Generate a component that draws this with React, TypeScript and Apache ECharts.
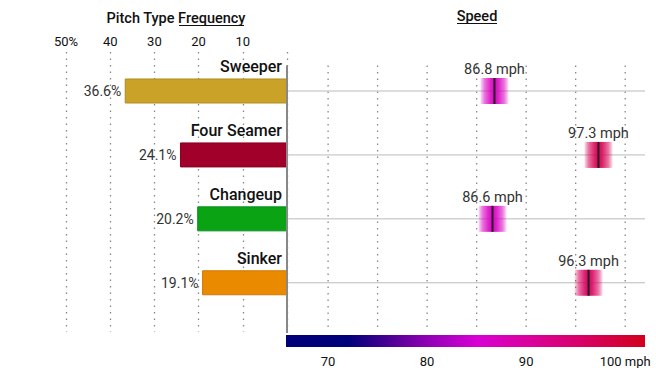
import React, { useEffect, useRef } from "react";
import * as echarts from "echarts";

const categories = ["Sweeper", "Four Seamer", "Changeup", "Sinker"];
const frequency = [36.6, 24.1, 20.2, 19.1];
const speed = [86.8, 97.3, 86.6, 96.3];
const barColors = ["#c9a227", "#a1002a", "#0aa314", "#e98a00"];
const barBorders = ["#b08c1c", "#8a0022", "#08901a", "#d07a00"];
const freqTicks = [10, 20, 30, 40, 50];
const speedLabelTicks = [70, 80, 90, 100];
const speedGridTicks = [70, 75, 80, 85, 90, 95, 100];
const speedMin = 65.75;
const speedMax = 102;
const colorStops: [number, string][] = [
  [65.75, "#000078"],
  [72, "#00007a"],
  [77, "#5a0098"],
  [80, "#8e00b4"],
  [85, "#d800d4"],
  [90, "#da00a0"],
  [95, "#d8006c"],
  [102, "#d2001c"],
];

const FONT = "Roboto";
const Y_MIN = -0.61;
const Y_MAX = 3.77;

function hexToRgb(h: string) {
  const n = parseInt(h.slice(1), 16);
  return [(n >> 16) & 255, (n >> 8) & 255, n & 255];
}
function colorAt(v: number) {
  for (let k = 0; k < colorStops.length - 1; k++) {
    const [a, ca] = colorStops[k];
    const [b, cb] = colorStops[k + 1];
    if (v >= a && v <= b) {
      const t = (v - a) / (b - a);
      const A = hexToRgb(ca), B = hexToRgb(cb);
      return A.map((x, j) => Math.round(x + (B[j] - x) * t));
    }
  }
  return hexToRgb(colorStops[colorStops.length - 1][1]);
}
function rgba(c: number[], a: number) {
  return `rgba(${c[0]},${c[1]},${c[2]},${a})`;
}

export default function App() {
  const ref = useRef<HTMLDivElement>(null);
  useEffect(() => {
    if (!ref.current) return;
    const chart = echarts.init(ref.current, null, { renderer: "svg" });
    const span = speedMax - speedMin;
    const option: any = {
      animation: false,
      textStyle: { fontFamily: FONT },
      grid: [
        { left: 66, right: 369, top: 52, bottom: 36 },
        { left: 286, right: 11, top: 52, bottom: 36 },
      ],
      xAxis: [
        {
          type: "value",
          gridIndex: 0,
          inverse: true,
          min: 0,
          max: 50,
          interval: 10,
          position: "top",
          axisLine: { show: false },
          axisTick: { show: false },
          axisLabel: {
            margin: 4,
            fontSize: 13,
            color: "#111",
            fontFamily: FONT,
            formatter: (v: number) => (v === 50 ? "50%" : v === 0 ? "" : String(v)),
          },
          splitLine: {
            show: true,
            lineStyle: { color: "#888", width: 1.3, type: [1.5, 5] },
          },
        },
        {
          type: "value",
          gridIndex: 1,
          min: speedMin,
          max: speedMax,
          axisLine: { show: false },
          axisTick: { show: false },
          splitLine: { show: false },
          axisLabel: {
            customValues: speedLabelTicks,
            margin: 23,
            fontSize: 13,
            color: "#111",
            fontFamily: FONT,
            formatter: (v: number) => (v === 100 ? "100 mph" : String(v)),
          },
        },
      ],
      yAxis: [
        { type: "value", gridIndex: 0, inverse: true, min: Y_MIN, max: Y_MAX, show: false },
        { type: "value", gridIndex: 1, inverse: true, min: Y_MIN, max: Y_MAX, show: false },
      ],
      graphic: [
        {
          type: "text",
          style: {
            text: "Pitch Type Frequency",
            x: 176,
            y: 18,
            align: "center",
            verticalAlign: "middle",
            fontSize: 14.5,
            fontWeight: 500,
            fontFamily: FONT,
            fill: "#111",
          },
        },
        {
          type: "line",
          shape: { x1: 179, y1: 25.5, x2: 244, y2: 25.5 },
          style: { stroke: "#111", lineWidth: 1.2 },
        },
        {
          type: "text",
          style: {
            text: "Speed",
            x: 477,
            y: 16,
            align: "center",
            verticalAlign: "middle",
            fontSize: 14.5,
            fontWeight: 500,
            fontFamily: FONT,
            fill: "#111",
          },
        },
        {
          type: "line",
          shape: { x1: 457, y1: 23.5, x2: 497, y2: 23.5 },
          style: { stroke: "#111", lineWidth: 1.2 },
        },
        {
          type: "rect",
          shape: { x: 286, y: 335, width: 359, height: 12 },
          style: {
            fill: new echarts.graphic.LinearGradient(
              0, 0, 1, 0,
              colorStops.map(([v, c]) => ({ offset: (v - speedMin) / span, color: c }))
            ),
          },
        },
      ],
      series: [
        {
          type: "custom",
          xAxisIndex: 1,
          yAxisIndex: 1,
          clip: false,
          silent: true,
          data: speedGridTicks.map((t) => [t]),
          renderItem: (params: any, api: any) => {
            const t = api.value(0);
            const a = api.coord([t, -0.4]);
            const b = api.coord([t, 3.7]);
            return {
              type: "line",
              shape: { x1: a[0], y1: a[1], x2: b[0], y2: b[1] },
              style: { stroke: "#888", lineWidth: 1.3, lineDash: [1.5, 5] },
            };
          },
        },
        {
          type: "line",
          xAxisIndex: 0,
          yAxisIndex: 0,
          data: [[0, -0.4], [0, 3.8]],
          symbol: "none",
          silent: true,
          lineStyle: { color: "#888", width: 2 },
          z: 5,
        },
        {
          type: "custom",
          xAxisIndex: 0,
          yAxisIndex: 0,
          clip: false,
          data: categories.map((c, i) => [frequency[i], i]),
          renderItem: (params: any, api: any) => {
            const i = params.dataIndex;
            const v = api.value(0);
            const y = api.value(1);
            const p0 = api.coord([0, y]);
            const p1 = api.coord([v, y]);
            return {
              type: "group",
              children: [
                {
                  type: "rect",
                  shape: { x: p1[0], y: p0[1] - 12, width: p0[0] - p1[0], height: 24 },
                  style: { fill: barColors[i], stroke: barBorders[i], lineWidth: 1 },
                },
                {
                  type: "text",
                  style: {
                    text: v.toFixed(1) + "%",
                    x: p1[0] - 4,
                    y: p0[1],
                    align: "right",
                    verticalAlign: "middle",
                    fontSize: 14,
                    fontFamily: FONT,
                    fill: "#333",
                  },
                },
                {
                  type: "text",
                  style: {
                    text: categories[i],
                    x: p0[0] - 5,
                    y: p0[1] - 24,
                    align: "right",
                    verticalAlign: "middle",
                    fontSize: 16,
                    fontWeight: 500,
                    fontFamily: FONT,
                    fill: "#111",
                  },
                },
              ],
            };
          },
        },
        {
          type: "custom",
          xAxisIndex: 1,
          yAxisIndex: 1,
          clip: false,
          data: categories.map((c, i) => [speed[i], i]),
          renderItem: (params: any, api: any) => {
            const v = api.value(0);
            const y = api.value(1);
            const p = api.coord([v, y]);
            const l = api.coord([speedMin, y]);
            const r = api.coord([speedMax, y]);
            const col = colorAt(v);
            return {
              type: "group",
              children: [
                {
                  type: "line",
                  shape: { x1: l[0] + 1, y1: p[1], x2: r[0], y2: p[1] },
                  style: { stroke: "#bbb", lineWidth: 1 },
                  z2: 1,
                },
                {
                  type: "rect",
                  shape: { x: p[0] - 14, y: p[1] - 13, width: 28, height: 26 },
                  style: {
                    fill: new echarts.graphic.LinearGradient(0, 0, 1, 0, [
                      { offset: 0, color: rgba(col, 0.12) },
                      { offset: 0.15, color: rgba(col, 0.55) },
                      { offset: 0.35, color: rgba(col, 0.85) },
                      { offset: 0.5, color: rgba(col, 1) },
                      { offset: 0.65, color: rgba(col, 0.85) },
                      { offset: 0.85, color: rgba(col, 0.55) },
                      { offset: 1, color: rgba(col, 0.12) },
                    ]),
                  },
                  z2: 2,
                },
                {
                  type: "line",
                  shape: { x1: p[0], y1: p[1] - 13, x2: p[0], y2: p[1] + 13 },
                  style: { stroke: "#222", lineWidth: 2 },
                  z2: 3,
                },
                {
                  type: "text",
                  style: {
                    text: v.toFixed(1) + " mph",
                    x: p[0],
                    y: p[1] - 21.5,
                    align: "center",
                    verticalAlign: "middle",
                    fontSize: 14.5,
                    fontFamily: FONT,
                    fill: "#333",
                  },
                  z2: 4,
                },
              ],
            };
          },
        },
      ],
    };
    chart.setOption(option);
    return () => chart.dispose();
  }, []);
  return (
    <div
      ref={ref}
      style={{ position: "fixed", left: 0, top: 0, width: 656, height: 368, background: "#fff" }}
    />
  );
}
